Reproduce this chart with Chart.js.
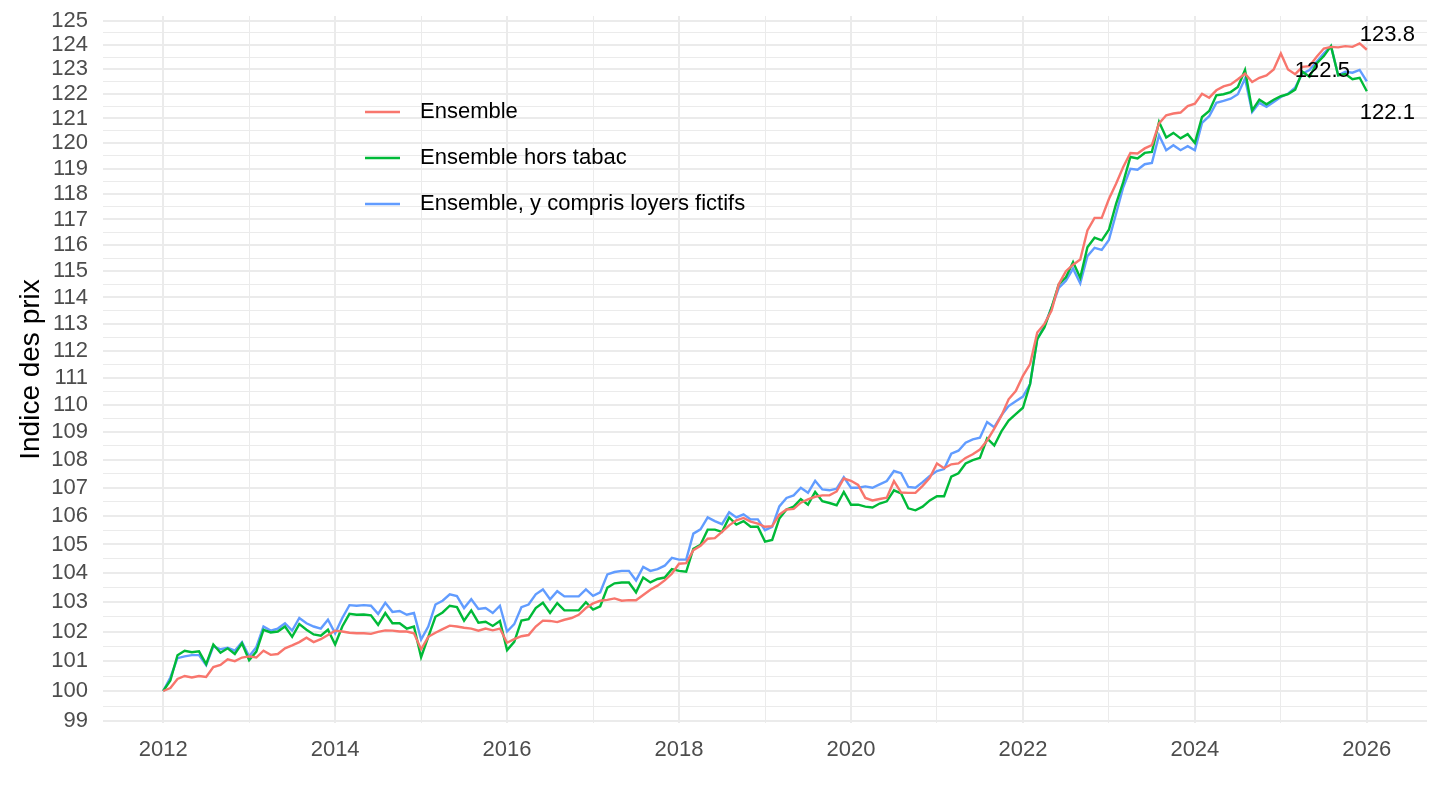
<!DOCTYPE html>
<html lang="fr">
<head>
<meta charset="utf-8">
<title>Indice des prix</title>
<script src="https://cdn.jsdelivr.net/npm/chart.js@4.4.1/dist/chart.umd.min.js"></script>
<style>
  html, body { margin: 0; padding: 0; background: #fff; }
  #wrap { width: 1440px; height: 810px; }
</style>
</head>
<body>
<div id="wrap"><canvas id="prix"></canvas></div>
<script>
// monthly values, jan 2012 -> jan 2026
const firstYear = 2012;

const ensemble = [
  100.0, 100.1, 100.4, 100.5, 100.45, 100.5, 100.47, 100.8, 100.87, 101.06, 101.0, 101.12,
  101.16, 101.12, 101.35, 101.21, 101.24, 101.43, 101.53, 101.64, 101.79, 101.64, 101.74, 101.88,
  102.03, 102.0, 101.96, 101.94, 101.94, 101.92, 101.99, 102.04, 102.03, 102.0, 102.0, 101.94,
  101.4, 101.82, 101.96, 102.08, 102.2, 102.17, 102.13, 102.1, 102.03, 102.1, 102.04, 102.1,
  101.62, 101.74, 101.84, 101.88, 102.17, 102.37, 102.36, 102.32, 102.4, 102.46, 102.57, 102.8,
  102.96, 103.05, 103.08, 103.13, 103.05, 103.07, 103.07, 103.25, 103.43, 103.57, 103.75, 103.98,
  104.33, 104.35, 104.8, 104.95, 105.2, 105.22, 105.44, 105.67, 105.85, 105.93, 105.8, 105.73,
  105.62, 105.64, 106.05, 106.23, 106.25, 106.47, 106.59, 106.68, 106.73, 106.73, 106.87, 107.33,
  107.25, 107.1, 106.64, 106.55, 106.6, 106.65, 107.24, 106.83, 106.82, 106.82, 107.07, 107.36,
  107.87, 107.7, 107.84, 107.87, 108.07, 108.2, 108.37, 108.7, 109.13, 109.6, 110.2, 110.5,
  111.06, 111.5, 112.68, 113.0, 113.5, 114.5, 115.0, 115.25, 115.45, 116.57, 117.06, 117.06,
  117.8, 118.4, 119.06, 119.62, 119.6, 119.8, 119.93, 120.8, 121.13, 121.2, 121.24, 121.5,
  121.6, 122.0, 121.84, 122.14, 122.3, 122.38, 122.59, 122.82, 122.48, 122.65, 122.75, 122.99,
  123.65, 122.99, 122.8, 123.1, 123.13, 123.51, 123.85, 123.92, 123.9, 123.95, 123.92, 124.06,
  123.8
];

const horsTabac = [
  100.0, 100.35, 101.2, 101.35, 101.3, 101.33, 100.9, 101.56, 101.28, 101.43, 101.24, 101.6,
  101.03, 101.32, 102.06, 101.97, 102.0, 102.17, 101.82, 102.25, 102.06, 101.9, 101.86, 102.06,
  101.56, 102.17, 102.6, 102.57, 102.58, 102.55, 102.23, 102.63, 102.28, 102.28, 102.1, 102.17,
  101.13, 101.82, 102.5, 102.65, 102.88, 102.83, 102.37, 102.72, 102.3, 102.33, 102.19, 102.36,
  101.37, 101.65, 102.37, 102.42, 102.8, 102.98, 102.63, 102.97, 102.72, 102.72, 102.72, 103.0,
  102.75, 102.86, 103.5, 103.65, 103.68, 103.68, 103.34, 103.85, 103.68, 103.8, 103.85, 104.14,
  104.08, 104.05, 104.85, 104.99, 105.52, 105.52, 105.44, 105.95, 105.7, 105.82, 105.62, 105.62,
  105.1, 105.16, 105.91, 106.23, 106.33, 106.6, 106.4, 106.85, 106.52, 106.46, 106.38, 106.85,
  106.4, 106.4, 106.33, 106.3, 106.44, 106.52, 106.91, 106.8, 106.27, 106.2, 106.33, 106.55,
  106.7, 106.7, 107.4, 107.52, 107.87, 107.99, 108.07, 108.77, 108.52, 109.03, 109.42, 109.66,
  109.89, 110.76, 112.43, 112.87, 113.62, 114.5, 114.77, 115.35, 114.75, 115.92, 116.29, 116.19,
  116.6, 117.61, 118.46, 119.46, 119.4, 119.62, 119.66, 120.86, 120.24, 120.42, 120.2, 120.37,
  120.02, 121.06, 121.3, 121.94, 121.98, 122.07, 122.28, 122.97, 121.33, 121.76, 121.57, 121.76,
  121.9, 121.98, 122.17, 122.9, 122.69, 123.24, 123.54, 123.95, 122.75, 122.8, 122.59, 122.65,
  122.1
];

const loyersFictifs = [
  100.0, 100.45, 101.1, 101.16, 101.2, 101.2, 100.86, 101.5, 101.4, 101.45, 101.35, 101.64,
  101.16, 101.47, 102.17, 102.03, 102.1, 102.28, 102.03, 102.46, 102.28, 102.17, 102.1, 102.4,
  101.94, 102.46, 102.9, 102.88, 102.9, 102.88, 102.6, 102.98, 102.67, 102.7, 102.57, 102.63,
  101.73, 102.17, 102.92, 103.05, 103.27, 103.21, 102.8, 103.1, 102.77, 102.8, 102.63, 102.88,
  102.0, 102.25, 102.83, 102.92, 103.27, 103.44, 103.1, 103.38, 103.2, 103.2, 103.2, 103.44,
  103.22, 103.34, 103.96, 104.04, 104.08, 104.08, 103.75, 104.22, 104.08, 104.14, 104.26, 104.53,
  104.47, 104.47, 105.38, 105.53, 105.95, 105.82, 105.71, 106.13, 105.95, 106.06, 105.88, 105.88,
  105.5, 105.62, 106.34, 106.64, 106.73, 107.0, 106.82, 107.25, 106.94, 106.91, 106.97, 107.38,
  107.0, 107.0, 107.05, 107.0, 107.12, 107.24, 107.6, 107.52, 107.03, 107.0, 107.2, 107.42,
  107.6, 107.67, 108.22, 108.33, 108.62, 108.74, 108.8, 109.37, 109.18, 109.62, 109.95, 110.13,
  110.3, 110.76, 112.43, 112.93, 113.62, 114.36, 114.64, 115.1, 114.54, 115.58, 115.9, 115.82,
  116.2, 117.22, 118.26, 118.99, 118.95, 119.17, 119.22, 120.33, 119.73, 119.93, 119.73, 119.89,
  119.73, 120.82, 121.09, 121.63, 121.71, 121.8, 121.98, 122.62, 121.26, 121.63, 121.47, 121.67,
  121.87, 122.0, 122.25, 122.82, 122.97, 123.31, 123.65, 123.95, 122.75, 122.9, 122.86, 122.97,
  122.5
];

const seriesNames = ["Ensemble", "Ensemble hors tabac", "Ensemble, y compris loyers fictifs"];
const seriesColors = ["#F8766D", "#00BA38", "#619CFF"];
const endLabels = ["123.8", "122.1", "122.5"];

const yearTicks = [2012, 2013, 2014, 2015, 2016, 2017, 2018, 2019, 2020, 2021, 2022, 2023, 2024, 2025, 2026];
const priceTicks = [99, 100, 101, 102, 103, 104, 105, 106, 107, 108, 109, 110, 111, 112,
  113, 114, 115, 116, 117, 118, 119, 120, 121, 122, 123, 124, 125];

// minor grid lines halfway between the labelled ones
const allPriceTicks = [];
priceTicks.forEach((v, i) => {
  allPriceTicks.push(v);
  if (i < priceTicks.length - 1) allPriceTicks.push((v + priceTicks[i + 1]) / 2);
});

const FONT = '"Liberation Sans", Arial, Helvetica, sans-serif';

function toPoints(values) {
  return values.map((v, i) => ({ x: firstYear + i / 12, y: v }));
}

// legend inside the panel + labels at the end of the lines
const overlay = {
  id: 'overlay',
  afterDatasetsDraw(chart) {
    const ctx = chart.ctx;
    ctx.save();
    ctx.font = '22px ' + FONT;
    ctx.textBaseline = 'middle';
    ctx.textAlign = 'left';
    chart.data.datasets.forEach((ds, i) => {
      const y = 112 + i * 46;
      ctx.strokeStyle = ds.borderColor;
      ctx.lineWidth = 2.4;
      ctx.beginPath();
      ctx.moveTo(365, y);
      ctx.lineTo(400, y);
      ctx.stroke();
      ctx.fillStyle = '#000';
      ctx.fillText(ds.label, 420, y);
    });

    const offsets = [[-7, -15], [-7, 22], [-72, -11]];
    chart.data.datasets.forEach((ds, i) => {
      const pts = chart.getDatasetMeta(i).data;
      const last = pts[pts.length - 1];
      ctx.fillStyle = '#000';
      ctx.fillText(endLabels[i], last.x + offsets[i][0], last.y + offsets[i][1]);
    });
    ctx.restore();
  }
};

new Chart("prix", {
  type: "line",
  data: {
    datasets: [
      { label: seriesNames[0], data: toPoints(ensemble), borderColor: seriesColors[0] },
      { label: seriesNames[1], data: toPoints(horsTabac), borderColor: seriesColors[1] },
      { label: seriesNames[2], data: toPoints(loyersFictifs), borderColor: seriesColors[2] }
    ]
  },
  options: {
    responsive: true,
    maintainAspectRatio: false,
    animation: false,
    layout: { padding: { top: 16, right: 13, left: 0, bottom: 0 } },
    elements: {
      line: { borderWidth: 2.4, tension: 0, fill: false },
      point: { radius: 0, hoverRadius: 0 }
    },
    plugins: {
      legend: { display: false },
      tooltip: { enabled: false }
    },
    scales: {
      x: {
        type: "linear",
        min: 2011.3,
        max: 2026.7,
        afterBuildTicks: (scale) => { scale.ticks = yearTicks.map(v => ({ value: v })); },
        afterFit: (scale) => { scale.height = 87; scale.paddingLeft = 0; scale.paddingRight = 0; },
        border: { display: false },
        grid: {
          drawTicks: false,
          color: "#ebebeb",
          lineWidth: (c) => (c.tick && c.tick.value % 2 === 0 ? 2 : 1)
        },
        ticks: {
          autoSkip: false,
          maxRotation: 0,
          padding: 14,
          color: "#4d4d4d",
          font: { family: FONT, size: 22 },
          callback: (v) => (v % 2 === 0 ? String(v) : "")
        }
      },
      y: {
        type: "logarithmic",
        min: 98.94,
        max: 125.2,
        afterBuildTicks: (scale) => { scale.ticks = allPriceTicks.map(v => ({ value: v })); },
        afterFit: (scale) => { scale.width = 103; scale.paddingTop = 0; scale.paddingBottom = 0; },
        border: { display: false },
        grid: {
          drawTicks: false,
          color: "#ebebeb",
          lineWidth: (c) => (c.tick && Number.isInteger(c.tick.value) ? 2 : 1)
        },
        ticks: {
          autoSkip: false,
          padding: 15,
          color: "#4d4d4d",
          font: { family: FONT, size: 22 },
          callback: (v) => (Number.isInteger(v) ? String(v) : "")
        },
        title: {
          display: true,
          text: "Indice des prix",
          color: "#000",
          font: { family: FONT, size: 28 },
          padding: { top: 14, bottom: 0 }
        }
      }
    }
  },
  plugins: [overlay]
});
</script>
</body>
</html>
